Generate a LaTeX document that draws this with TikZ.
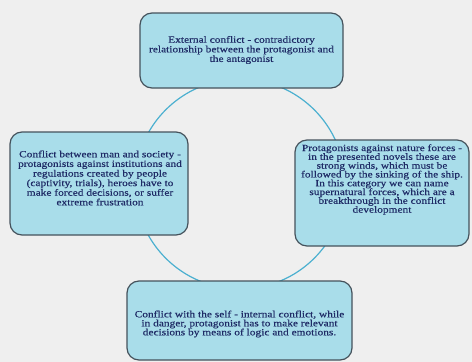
\documentclass[tikz,border=0pt]{standalone}
\usepackage{fontspec}
\setmainfont{Liberation Serif}[FakeStretch=1.2,FakeBold=0.4]
\definecolor{bgc}{HTML}{EFEFEF}
\definecolor{boxfill}{HTML}{A9DDEA}
\definecolor{boxline}{HTML}{45525C}
\definecolor{ringc}{HTML}{4BB0D0}
\definecolor{txtc}{HTML}{1F2B66}
\tikzset{
  cbox/.style={draw=boxline, fill=boxfill, line width=1.2pt, rounded corners=12pt, inner sep=0pt},
  ctext/.style={text=txtc, align=center, inner sep=0pt, font=\fontsize{9.5}{9.6}\selectfont},
}
\begin{document}
\begin{tikzpicture}[x=1pt,y=1pt]
\useasboundingbox (0,0) rectangle (472,-362);
\fill[bgc] (0,0) rectangle (472,-362);
\coordinate (ctr) at (240,-184);
\draw[ringc, line width=1.2pt] (ctr) circle (105);
% boxes
\node[cbox, minimum width=203, minimum height=75] (top) at (241.5,-50.5) {};
\node[cbox, minimum width=178, minimum height=103] (left) at (99,-183.5) {};
\node[cbox, minimum width=174, minimum height=106] (right) at (382,-193) {};
\node[cbox, minimum width=225, minimum height=79] (bottom) at (239.5,-320.5) {};
% texts
\node[ctext] (toptext) at (241.5,-50) {External conflict - contradictory\\relationship between the protagonist and\\the antagonist};
\node[ctext] (lefttext) at (100,-178) {Conflict between man and society -\\protagonists against institutions and\\regulations created by people\\(captivity, trials), heroes have to\\make forced decisions, or suffer\\extreme frustration};
\node[ctext, font=\fontsize{9.5}{8.8}\selectfont] (righttext) at (382,-179.5) {Protagonists against nature forces -\\in the presented novels these are\\strong winds, which must be\\followed by the sinking of the ship.\\In this category we can name\\supernatural forces, which are a\\breakthrough in the conflict\\development};
\node[ctext, font=\fontsize{9.5}{9}\selectfont] (bottomtext) at (239.5,-324) {Conflict with the self - internal conflict, while\\in danger, protagonist has to make relevant\\decisions by means of logic and emotions.};
\end{tikzpicture}
\end{document}
